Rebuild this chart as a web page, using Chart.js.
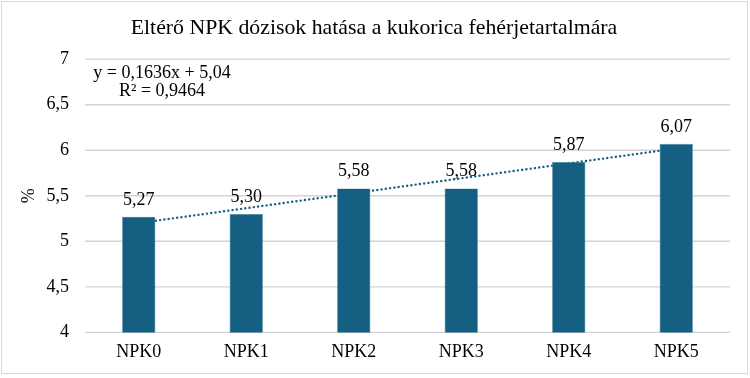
<!DOCTYPE html>
<html><head><meta charset="utf-8">
<script src="https://cdn.jsdelivr.net/npm/chart.js@4"></script>
<style>html,body{margin:0;padding:0;background:#fff}</style>
</head><body><canvas id="c" width="750" height="378" style="display:block;width:750px;height:378px"></canvas>
<script>
const categories = ["NPK0","NPK1","NPK2","NPK3","NPK4","NPK5"];
const proteinValues = [5.27, 5.30, 5.58, 5.58, 5.87, 6.07];
const trendValues = [5.20, null, null, null, null, 6.02];
const equationLines = ["y = 0,1636x + 5,04", "R² = 0,9464"];
const titleText = "Eltérő NPK dózisok hatása a kukorica fehérjetartalmára";
const yAxisTitle = "%";
const yMin = 4, yMax = 7, yStep = 0.5;

const SERIF = "'Liberation Serif','Times New Roman',serif";
const BAR = "#156082";
const GRID = "#d4d4d4";
const fmt = v => String(v).replace('.', ',');

const extras = {
  id: 'extras',
  beforeDatasetsDraw(chart) {
    const ctx = chart.ctx, ys = chart.scales.y, a = chart.chartArea;
    ctx.save();
    ctx.strokeStyle = GRID;
    ctx.lineWidth = 1.4;
    ys.ticks.forEach(t => {
      const y = ys.getPixelForValue(t.value);
      ctx.beginPath();
      ctx.moveTo(a.left, y);
      ctx.lineTo(a.right, y);
      ctx.stroke();
    });
    ctx.restore();
  },
  afterDatasetsDraw(chart) {
    const ctx = chart.ctx;
    const meta = chart.getDatasetMeta(1);
    ctx.save();
    ctx.fillStyle = '#000';
    ctx.font = '18px ' + SERIF;
    ctx.textAlign = 'center';
    ctx.textBaseline = 'alphabetic';
    meta.data.forEach((bar, i) => {
      ctx.fillText(proteinValues[i].toFixed(2).replace('.', ','), bar.x, bar.y - 12);
    });
    ctx.textBaseline = 'middle';
    ctx.fillText(equationLines[0], 162, 73);
    ctx.fillText(equationLines[1], 162, 91);
    ctx.restore();
  },
  afterDraw(chart) {
    const ctx = chart.ctx;
    ctx.save();
    ctx.strokeStyle = '#d9d9d9';
    ctx.lineWidth = 1;
    ctx.strokeRect(1.5, 1.5, 746, 372);
    ctx.restore();
  }
};

new Chart(document.getElementById('c'), {
  type: 'bar',
  data: {
    labels: categories,
    datasets: [
      { type: 'line', data: trendValues, spanGaps: true, borderColor: BAR, borderWidth: 2.4,
        borderDash: [0.1, 4.2], borderCapStyle: 'round', pointRadius: 0, fill: false, order: 2 },
      { type: 'bar', data: proteinValues, backgroundColor: BAR, borderColor: '#4a86a3', borderWidth: 0.6,
        categoryPercentage: 1, barPercentage: 0.31, order: 1 }
    ]
  },
  options: {
    responsive: false, animation: false, devicePixelRatio: 1,
    layout: { padding: { left: 18, right: 20, top: 0, bottom: 5 } },
    plugins: {
      legend: { display: false }, tooltip: { enabled: false },
      title: { display: true, text: titleText, color: '#000',
        font: { family: SERIF, size: 21.8, weight: 'normal' }, padding: { top: 15, bottom: 18 } }
    },
    scales: {
      x: { grid: { display: false, drawTicks: false }, border: { display: false },
        ticks: { color: '#000', font: { family: SERIF, size: 18 }, padding: 9.5 } },
      y: { min: yMin, max: yMax,
        afterFit: s => { s.width = 67; },
        grid: { display: false, drawTicks: false }, border: { display: false },
        ticks: { stepSize: yStep, color: '#000', font: { family: SERIF, size: 18 }, padding: 16,
          callback: v => fmt(v) },
        title: { display: true, text: yAxisTitle, color: '#000', font: { family: SERIF, size: 18 }, padding: 0 } }
    }
  },
  plugins: [extras]
});
</script></body></html>
